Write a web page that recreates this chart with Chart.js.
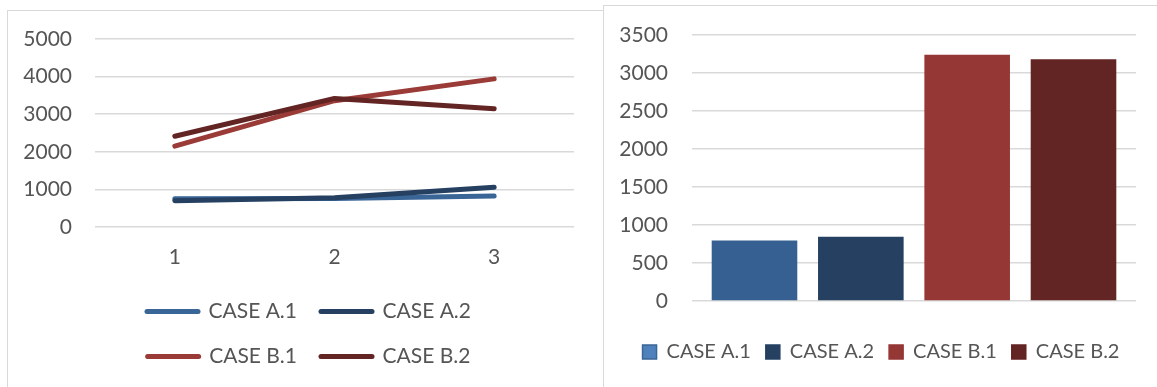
<!DOCTYPE html>
<html>
<head>
<meta charset="utf-8">
<script src="https://cdn.jsdelivr.net/npm/chart.js@4/dist/chart.umd.min.js"></script>
<style>
  html, body { margin: 0; padding: 0; background: #ffffff; overflow: hidden; }
  body { width: 1157px; height: 387px; position: relative; }
  .frame { position: absolute; border: 1px solid #d9d9d9; background: #ffffff; box-sizing: border-box; }
  #frameL { left: 7px; top: 10px; width: 597px; height: 400px; }
  #frameR { left: 603px; top: 5px; width: 560px; height: 400px; }
  canvas { position: absolute; }
  #lineChart { left: 8px; top: 11px; }
  #barChart { left: 604px; top: 6px; }
</style>
</head>
<body>
<div class="frame" id="frameL"></div>
<div class="frame" id="frameR"></div>
<canvas id="lineChart" width="594" height="376"></canvas>
<canvas id="barChart" width="553" height="381"></canvas>
<script>
// ---- data ----
const lineCategories = ['1', '2', '3'];
const seriesNames = ['CASE A.1', 'CASE A.2', 'CASE B.1', 'CASE B.2'];
const caseA1 = [750, 760, 825];
const caseA2 = [700, 775, 1060];
const caseB1 = [2150, 3360, 3940];
const caseB2 = [2415, 3420, 3145];
const lineYTicks = [0, 1000, 2000, 3000, 4000, 5000];

const barCategories = [''];
const barValues = [795, 845, 3240, 3180];
const barYTicks = [0, 500, 1000, 1500, 2000, 2500, 3000, 3500];

// ---- styles ----
const lineColors = ['#3a6597', '#254061', '#9a3b38', '#632523'];
const barColors = ['#376092', '#254061', '#953735', '#632523'];
const barLegendFill = ['#4f81bd', '#254061', '#953735', '#632523'];
const barLegendStroke = ['#3a6695', '#254061', '#953735', '#632523'];
const textColor = '#555555';
const gridColor = '#d9d9d9';
const fontFamily = 'Lato, "Open Sans", "Liberation Sans", sans-serif';

Chart.defaults.font.family = fontFamily;
Chart.defaults.font.size = 21;
Chart.defaults.color = textColor;

// legend helper: optional wrap width and horizontal shift of the legend box
const legendTweak = {
  id: 'legendTweak',
  afterInit(chart, args, opts) {
    const lg = chart.legend;
    if (!lg || !opts.wrapWidth) return;
    const up = lg.update;
    lg.update = function (mw, mh, m) { return up.call(this, Math.min(mw, opts.wrapWidth), mh, m); };
  },
  afterLayout(chart, args, opts) {
    const lg = chart.legend;
    if (!lg || !opts.shiftX) return;
    lg.left += opts.shiftX;
    lg.right += opts.shiftX;
  }
};
Chart.register(legendTweak);

const plainTick = (v) => String(v);
const lineSeries = [caseA1, caseA2, caseB1, caseB2];

new Chart(document.getElementById('lineChart'), {
  type: 'line',
  data: {
    labels: lineCategories,
    datasets: lineSeries.map((vals, i) => ({
      label: seriesNames[i],
      data: vals,
      borderColor: lineColors[i],
      backgroundColor: lineColors[i],
      borderWidth: 5,
      borderCapStyle: 'round',
      borderJoinStyle: 'round',
      pointRadius: 0,
      pointHoverRadius: 0,
      tension: 0,
      fill: false,
      order: lineSeries.length - i
    }))
  },
  options: {
    responsive: false,
    animation: false,
    devicePixelRatio: 1,
    layout: { padding: { left: 8, right: 28, top: 28, bottom: 10 } },
    scales: {
      x: {
        offset: true,
        grid: { display: false, drawTicks: false },
        border: { display: false },
        ticks: { padding: 18, color: textColor },
        afterFit(scale) { scale.height = 50; }
      },
      y: {
        min: lineYTicks[0],
        max: lineYTicks[lineYTicks.length - 1],
        ticks: { stepSize: lineYTicks[1] - lineYTicks[0], padding: 23, color: textColor, callback: plainTick },
        grid: { color: gridColor, lineWidth: 1.5, drawTicks: false },
        border: { display: false },
        afterFit(scale) { scale.width = 79; scale.paddingTop = 0; scale.paddingBottom = 0; }
      }
    },
    plugins: {
      tooltip: { enabled: false },
      legendTweak: { wrapWidth: 420, shiftX: 14 },
      legend: {
        position: 'bottom',
        labels: {
          usePointStyle: true,
          pointStyleWidth: 51,
          padding: 24,
          color: textColor,
          generateLabels: (chart) => chart.data.datasets.map((ds, i) => ({
            text: ds.label,
            fillStyle: ds.borderColor,
            strokeStyle: ds.borderColor,
            lineWidth: 5,
            lineCap: 'round',
            pointStyle: 'line',
            hidden: false,
            datasetIndex: i,
            fontColor: textColor
          }))
        }
      }
    }
  }
});

new Chart(document.getElementById('barChart'), {
  type: 'bar',
  data: {
    labels: barCategories,
    datasets: barValues.map((v, i) => ({
      label: seriesNames[i],
      data: [v],
      backgroundColor: barColors[i],
      borderWidth: 0,
      barPercentage: 0.805,
      categoryPercentage: 0.958
    }))
  },
  options: {
    responsive: false,
    animation: false,
    devicePixelRatio: 1,
    layout: { padding: { left: 10, right: 21, top: 29, bottom: 15 } },
    scales: {
      x: {
        grid: { display: false, drawTicks: false },
        border: { display: false },
        ticks: { display: false },
        afterFit(scale) { scale.height = 26; }
      },
      y: {
        min: barYTicks[0],
        max: barYTicks[barYTicks.length - 1],
        ticks: { stepSize: barYTicks[1] - barYTicks[0], padding: 24, color: textColor, callback: plainTick },
        grid: { color: gridColor, lineWidth: 1.5, drawTicks: false },
        border: { display: false },
        afterFit(scale) { scale.width = 78; scale.paddingTop = 0; scale.paddingBottom = 0; }
      }
    },
    plugins: {
      tooltip: { enabled: false },
      legendTweak: { shiftX: 6 },
      legend: {
        position: 'bottom',
        labels: {
          boxWidth: 14,
          boxHeight: 14,
          padding: 15,
          color: textColor,
          font: { size: 20 },
          generateLabels: (chart) => chart.data.datasets.map((ds, i) => ({
            text: ds.label,
            fillStyle: barLegendFill[i],
            strokeStyle: barLegendStroke[i],
            lineWidth: 1.5,
            hidden: false,
            datasetIndex: i,
            fontColor: textColor
          }))
        }
      }
    }
  }
});
</script>
</body>
</html>
